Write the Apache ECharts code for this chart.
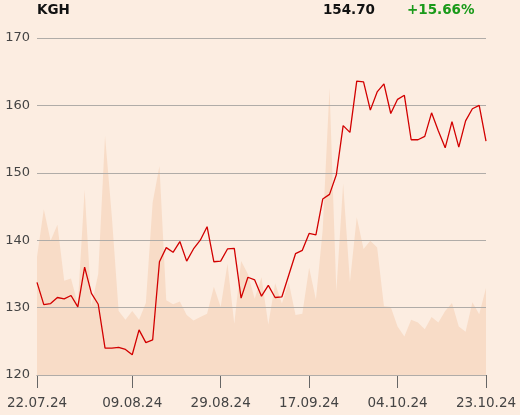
<!DOCTYPE html>
<html>
<head>
<meta charset="utf-8">
<script src="https://cdn.jsdelivr.net/npm/echarts@6/dist/echarts.min.js"></script>
<style>
html,body{margin:0;padding:0;background:#fcede1;}
#chart{width:520px;height:415px;}
</style>
</head>
<body>
<div id="chart"></div>
<script>
const ticker = 'KGH';
const lastPrice = '154.70';
const change = '+15.66%';

const dates = [
 '22.07.24','23.07.24','24.07.24','25.07.24','26.07.24','29.07.24','30.07.24','31.07.24',
 '01.08.24','02.08.24','05.08.24','06.08.24','07.08.24','08.08.24','09.08.24',
 '12.08.24','13.08.24','14.08.24','16.08.24','19.08.24','20.08.24','21.08.24','22.08.24','23.08.24',
 '26.08.24','27.08.24','28.08.24','29.08.24','30.08.24',
 '02.09.24','03.09.24','04.09.24','05.09.24','06.09.24','09.09.24','10.09.24','11.09.24','12.09.24','13.09.24',
 '16.09.24','17.09.24','18.09.24','19.09.24','20.09.24','23.09.24','24.09.24','25.09.24','26.09.24','27.09.24','30.09.24',
 '01.10.24','02.10.24','03.10.24','04.10.24','07.10.24','08.10.24','09.10.24','10.10.24','11.10.24',
 '14.10.24','15.10.24','16.10.24','17.10.24','18.10.24','21.10.24','22.10.24','23.10.24'
];

const price = [
 133.75,130.45,130.6,131.5,131.3,131.8,130.1,136.0,132.1,130.5,
 124.0,124.0,124.1,123.8,123.0,126.7,124.8,125.2,136.8,138.9,
 138.2,139.8,136.9,138.7,140.0,142.0,136.8,136.9,138.7,138.8,
 131.4,134.5,134.1,131.7,133.3,131.5,131.6,134.8,138.0,138.5,
 141.0,140.8,146.1,146.8,149.7,157.0,156.0,163.6,163.5,159.3,
 162.0,163.2,158.8,160.9,161.5,154.9,154.9,155.4,158.9,156.2,
 153.7,157.6,153.8,157.7,159.5,160.0,154.70
];

const volume = [
 137.5,144.6,139.9,142.3,134.0,134.3,130.5,147.5,130.3,135.0,
 155.5,143.5,129.5,128.2,129.5,128.2,130.7,145.6,151.0,131.1,
 130.5,130.9,128.9,128.1,128.6,129.1,133.1,130.1,136.5,127.6,
 136.9,135.0,131.3,134.5,127.5,133.6,130.6,133.8,128.9,129.1,
 135.9,131.2,141.6,162.6,132.4,148.4,133.8,143.4,138.7,139.9,
 138.9,130.2,130.1,127.2,125.7,128.2,127.8,126.8,128.6,127.8,
 129.5,130.7,127.2,126.4,130.8,129.0,132.9
];

const yTicks = {min: 120, max: 170, interval: 10};
const shownLabels = ['22.07.24','09.08.24','29.08.24','17.09.24','04.10.24','23.10.24'];

const chart = echarts.init(document.getElementById('chart'));
const isShown = (i, v) => shownLabels.indexOf(dates[i]) >= 0;

chart.setOption({
  backgroundColor: '#fcede1',
  animation: false,
  textStyle: {fontFamily: 'DejaVu Sans'},
  grid: {left: 37, right: 34, top: 38, bottom: 40, containLabel: false},
  graphic: [
    {type: 'text', left: 37, top: 3, style: {text: ticker, font: 'bold 13.5px DejaVu Sans', fill: '#111'}},
    {type: 'text', right: 145, top: 3, style: {text: lastPrice, font: 'bold 13.5px DejaVu Sans', fill: '#111'}},
    {type: 'text', left: 407, top: 3, style: {text: change, font: 'bold 13.5px DejaVu Sans', fill: '#1a9a1a'}}
  ],
  xAxis: {
    type: 'category',
    data: dates,
    boundaryGap: false,
    axisLine: {show: true, lineStyle: {color: '#888', width: 1}},
    axisTick: {show: true, interval: isShown, length: 13, lineStyle: {color: '#666'}},
    axisLabel: {interval: isShown, margin: 21, fontSize: 13.5, color: '#444', fontFamily: 'DejaVu Sans'},
    splitLine: {show: false}
  },
  yAxis: {
    type: 'value',
    min: yTicks.min, max: yTicks.max, interval: yTicks.interval,
    axisLine: {show: false},
    axisTick: {show: false},
    axisLabel: {margin: 7, fontSize: 13, color: '#444', fontFamily: 'DejaVu Sans'},
    splitLine: {show: true, lineStyle: {color: '#b0aca8', width: 1}},
    z: 1
  },
  series: [
    {
      type: 'line', data: volume, symbol: 'none', z: -1, zlevel: 0,
      lineStyle: {width: 0, opacity: 0},
      areaStyle: {color: '#f8dcc7', opacity: 1},
      silent: true
    },
    {
      type: 'line', data: price, symbol: 'none', z: 3,
      lineStyle: {color: '#d20000', width: 1.3}
    }
  ]
});
</script>
</body>
</html>
